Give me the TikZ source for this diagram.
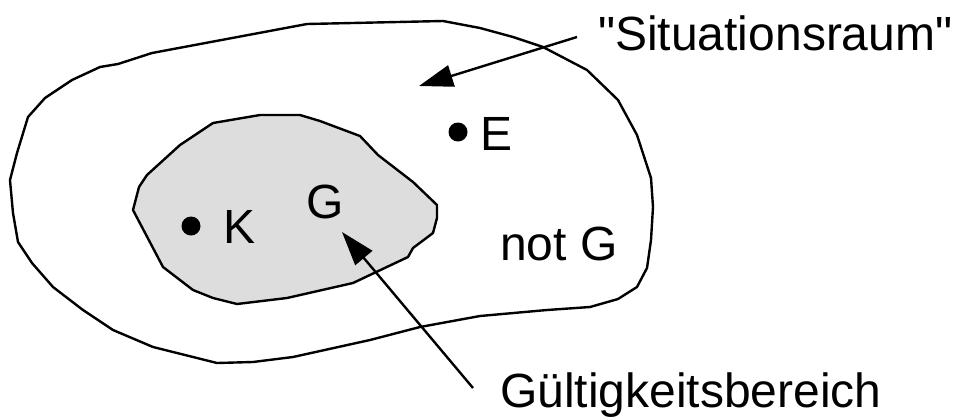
\documentclass[tikz,border=0pt]{standalone}
\usepackage{fontspec}
\setmainfont{Liberation Sans}[Ligatures=TeXOff]
\usepackage{tikz}
\usetikzlibrary{arrows.meta}
\definecolor{region}{HTML}{DDDDDD}
\tikzset{
  outline/.style={draw=black, line width=2.4pt, line join=round},
  lbl/.style={anchor=base west, inner sep=0pt, font=\fontsize{48}{52}\selectfont},
  pointer/.style={-{Triangle[length=34pt,width=22pt]}, line width=2.4pt},
  spot/.style={circle, fill=black, inner sep=0pt, minimum size=19pt},
}

\begin{document}
\begin{tikzpicture}[x=1pt,y=-1pt]
        \useasboundingbox (0,0) rectangle (954,416);
        % situation space
        \draw[outline] (307,24) -- (443,21) -- (480,28) -- (513,37) -- (543,47) -- (587,70) -- (618,100)
          -- (637,135) -- (651,178) -- (653,207) -- (651,240) -- (647,268) -- (637,287) -- (618,299)
          -- (590,307) -- (547,310) -- (480,316) -- (420,327) -- (370,340) -- (293,357) -- (253,362)
          -- (217,363) -- (153,347) -- (113,330) -- (83,310) -- (53,287) -- (32,263) -- (18,242)
          -- (13,213) -- (10,180) -- (17,153) -- (28,117) -- (45,98) -- (72,80) -- (100,67)
          -- (118,64) -- (152,53) -- cycle;
        % validity region
        \draw[outline, fill=region] (213,123) -- (260,115) -- (300,115) -- (320,121) -- (360,136)
          -- (378,155) -- (413,182) -- (437,205) -- (437,218) -- (433,233) -- (413,248) -- (408,257)
          -- (353,283) -- (287,298) -- (237,304) -- (213,298) -- (193,290) -- (163,267) -- (133,210)
          -- (139,187) -- (147,175) -- (180,145) -- cycle;
        \node[spot] (k) at (191,226) {};
        \node[spot] (e) at (458,132) {};
        \node[lbl] (klbl) at (223,243) {K};
        \node[lbl] (g) at (306,218) {G};
        \node[lbl] (elbl) at (480,150) {E};
        \node[lbl] (notg) at (500,260) {not G};
        \node[lbl] (sit) at (598,50) {"Situationsraum"};
        \node[lbl] (gb) at (500,407) {Gültigkeitsbereich};
        \coordinate (sitfrom) at (577,37);
        \coordinate (sitto) at (419,86);
        \coordinate (gbfrom) at (473,388);
        \coordinate (gbto) at (342,232);
        \draw[pointer] (sitfrom) -- (sitto);
        \draw[pointer] (gbfrom) -- (gbto);
      \end{tikzpicture}
\end{document}
